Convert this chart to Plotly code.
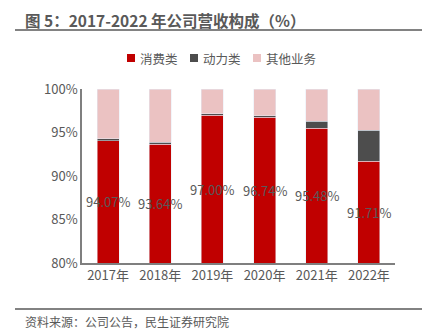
import plotly.graph_objects as go

years = ["2017年", "2018年", "2019年", "2020年", "2021年", "2022年"]
consumer = [94.07, 93.64, 97.00, 96.74, 95.48, 91.71]
power = [0.20, 0.25, 0.18, 0.20, 0.84, 3.54]
other = [round(100 - c - p, 2) for c, p in zip(consumer, power)]
y_ticks = [80, 85, 90, 95, 100]
series_names = ["消费类", "动力类", "其他业务"]
series_colors = ["#C00000", "#4D4D4D", "#EBC2C2"]

FONT = "Noto Sans CJK SC"
GRAY = "#595959"
W, H = 426, 332
L, R, T, B = 82, 31, 89, 69
PW, PH = W - L - R, H - T - B


def px(xp):
    return (xp - L) / PW


def py(yp):
    return (H - B - yp) / PH


fig = go.Figure()
for name, vals, col in zip(series_names, [consumer, power, other], series_colors):
    fig.add_bar(x=years, y=vals, name=name, marker_color=col, width=0.42, showlegend=False)

for yr, v in zip(years, consumer):
    fig.add_annotation(x=yr, y=(y_ticks[0] + v) / 2, text=f"{v:.2f}%", showarrow=False,
                       font=dict(family=FONT, size=13, color=GRAY))

# manual legend (tight spacing like the reference)
legend_x = [127, 190, 253]
for lx, name, col in zip(legend_x, series_names, series_colors):
    fig.add_shape(type="rect", xref="paper", yref="paper", x0=px(lx), x1=px(lx + 8),
                  y0=py(62), y1=py(54), fillcolor=col, line=dict(width=0))
    fig.add_annotation(xref="paper", yref="paper", x=px(lx + 11), y=py(58), xanchor="left",
                       yanchor="middle", text=name, showarrow=False,
                       font=dict(family=FONT, size=12.5, color=GRAY))

fig.add_annotation(xref="paper", yref="paper", x=px(23), y=py(20), xanchor="left", yanchor="middle",
                   text="<b>图 5：2017-2022 年公司营收构成（%）</b>", showarrow=False,
                   font=dict(family=FONT, size=15.5, color=GRAY))
fig.add_annotation(xref="paper", yref="paper", x=px(23), y=py(321), xanchor="left", yanchor="middle",
                   text="资料来源：公司公告，民生证券研究院", showarrow=False,
                   font=dict(family=FONT, size=12, color=GRAY))

fig.update_layout(
    width=W, height=H, barmode="stack", bargap=0.58,
    margin=dict(l=L, r=R, t=T, b=B, autoexpand=False),
    paper_bgcolor="white", plot_bgcolor="white",
    font=dict(family=FONT, color=GRAY, size=13),
    showlegend=False,
    xaxis=dict(showline=True, linecolor="#7F7F7F", linewidth=1.5, ticks="",
               tickfont=dict(size=13, color=GRAY)),
    yaxis=dict(range=[80, 100], tickvals=y_ticks, ticktext=[f"{t}%" for t in y_ticks],
               showline=True, linecolor="#7F7F7F", linewidth=1.5, showgrid=False,
               zeroline=False, ticks="", tickfont=dict(size=13, color=GRAY)),
)

# title and source separator lines
for yline in (30, 309):
    fig.add_shape(type="line", xref="paper", yref="paper", x0=px(15), x1=px(422), y0=py(yline), y1=py(yline),
                  line=dict(color="#595959", width=1.5))

fig.write_html("out.html")
